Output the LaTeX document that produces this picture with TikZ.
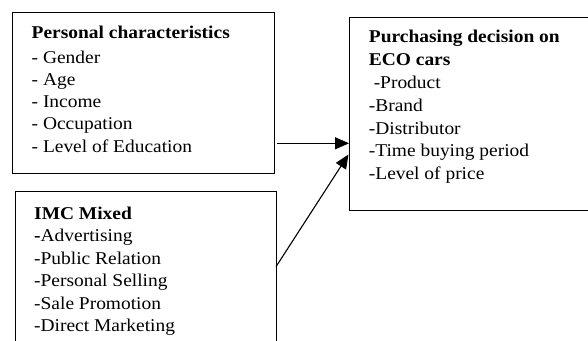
\documentclass[tikz,border=0pt]{standalone}
\usepackage{fontspec}
\setmainfont[FakeStretch=1.08]{Liberation Serif}
\usetikzlibrary{arrows.meta}
\begin{document}
\begin{tikzpicture}[x=1pt,y=-1pt,
  box/.style={draw,line width=1.3pt,rectangle,inner sep=0pt,anchor=north west},
  txt/.style={inner sep=0pt,anchor=base west,font=\fontsize{18}{22}\selectfont},
  conn/.style={line width=1.1pt,-{Triangle[length=14pt,width=12pt]}}]
\useasboundingbox (0,0) rectangle (588,340);
\begin{scope}
\clip (0,0) rectangle (588,340);
% boxes
\node[box,minimum width=262pt,minimum height=161pt] (pc) at (12,12) {};
\node[box,minimum width=261pt,minimum height=170pt] (imc) at (15,191) {};
\node[box,minimum width=262pt,minimum height=193pt] (pd) at (349,17) {};
\end{scope}
% texts box 1
\node[txt] (pc0) at (31.5,38) {\textbf{Personal characteristics}};
\node[txt] (pc1) at (31.5,63) {- Gender};
\node[txt] (pc2) at (31.5,85.3) {- Age};
\node[txt] (pc3) at (31.5,107.6) {- Income};
\node[txt] (pc4) at (31.5,129.9) {- Occupation};
\node[txt] (pc5) at (31.5,152.2) {- Level of Education};
% texts box 2
\node[txt] (im0) at (34,219.2) {\textbf{IMC Mixed}};
\node[txt] (im1) at (34,241.7) {\textbf{-}Advertising};
\node[txt] (im2) at (34,264.2) {-Public Relation};
\node[txt] (im3) at (34,286.7) {-Personal Selling};
\node[txt] (im4) at (34,309.2) {-Sale Promotion};
\node[txt] (im5) at (34,331.7) {-Direct Marketing};
% texts box 3
\node[txt] (pd0) at (368.7,42.4) {\textbf{Purchasing decision on}};
\node[txt] (pd1) at (368.7,65.3) {\textbf{ECO cars}};
\node[txt] (pd2) at (368.7,88.2) {\ -Product};
\node[txt] (pd3) at (368.7,111.1) {-Brand};
\node[txt] (pd4) at (368.7,134) {-Distributor};
\node[txt] (pd5) at (368.7,156.9) {-Time buying period};
\node[txt] (pd6) at (368.7,179.8) {-Level of price};
% connectors
\coordinate (s1) at (277,143.3);
\coordinate (e1) at (349,143.3);
\coordinate (s2) at (276,266.7);
\coordinate (e2) at (348.5,154.5);
\draw[conn] (s1) -- (e1);
\draw[conn] (s2) -- (e2);
\end{tikzpicture}
\end{document}
